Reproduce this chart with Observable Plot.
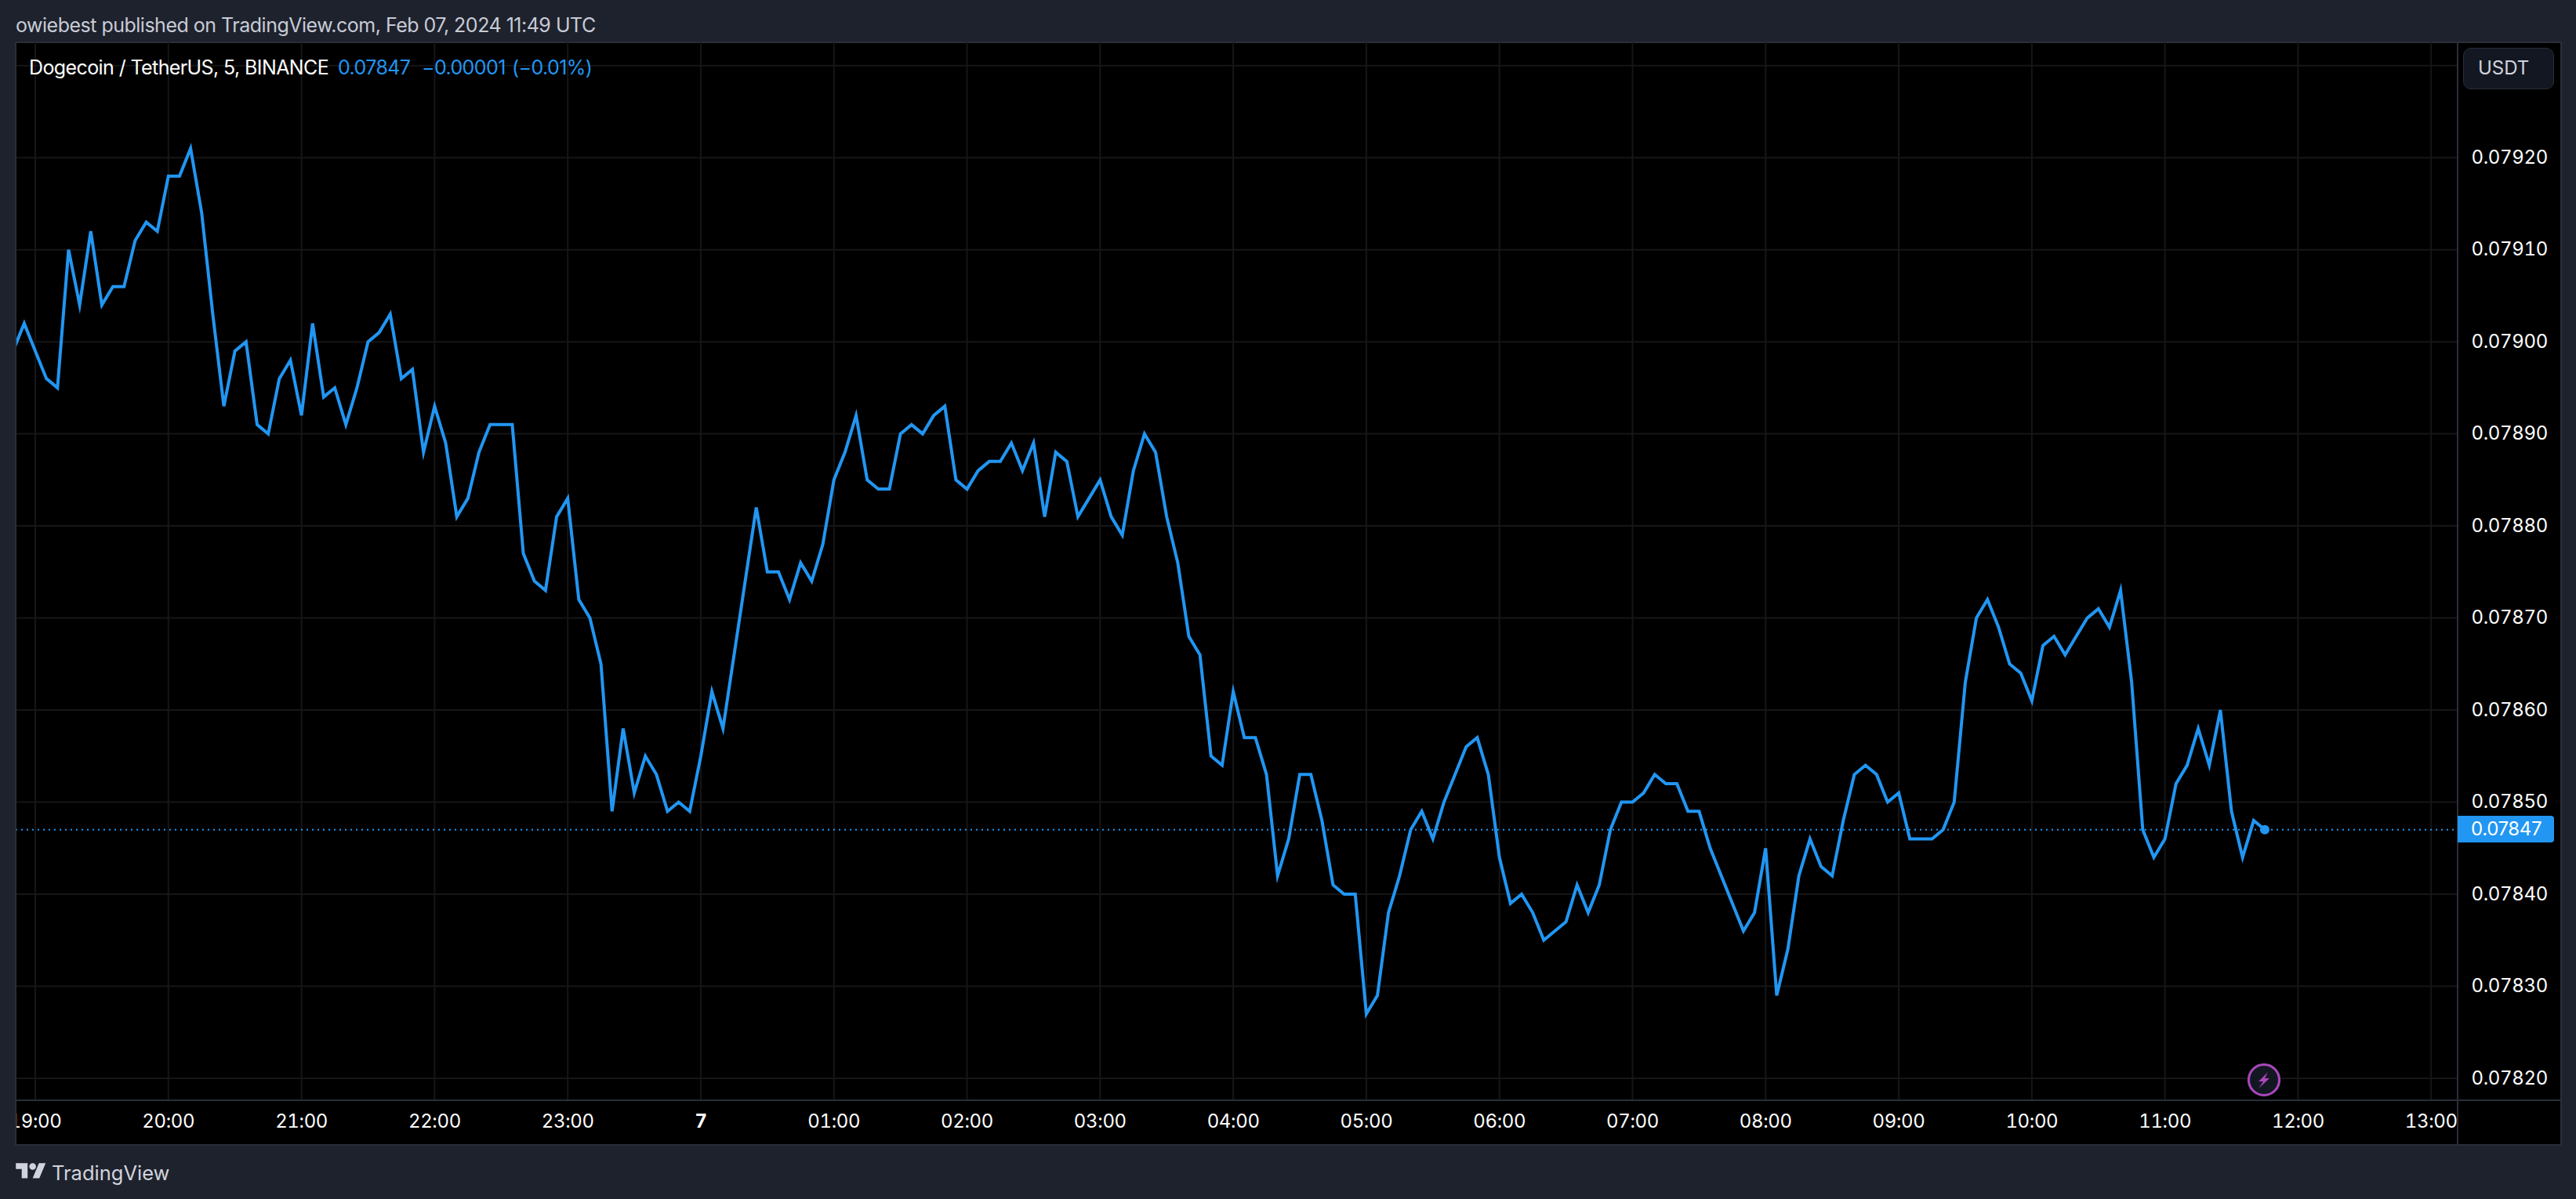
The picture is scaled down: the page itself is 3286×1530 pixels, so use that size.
<!DOCTYPE html>
<html>
<head>
<meta charset="utf-8">
<script src="https://cdn.jsdelivr.net/npm/d3@7"></script>
<script src="https://cdn.jsdelivr.net/npm/@observablehq/plot@0.6"></script>
<style>
  html,body{margin:0;padding:0;background:#1e222d;width:3286px;height:1530px;overflow:hidden;font-family:Inter,sans-serif;}
  .abs{position:absolute;white-space:pre;}
  #panel{left:19px;top:53px;width:3245px;height:1405px;background:#000;border:2px solid #2a2e39;}
  svg.chart{position:absolute;left:0;top:0;z-index:1;}
  svg.chart text{letter-spacing:-0.35px;}
  .over{z-index:2;}
</style>
</head>
<body>
<div id="panel" class="abs"></div>
<div id="root"></div>
<div class="abs over" style="left:0;top:54px;width:19px;height:1406px;background:#1e222d"></div>
<div class="abs over" style="left:19px;top:54px;width:2px;height:1406px;background:#2a2e39"></div>
<div class="abs over" style="left:20px;top:1403px;width:3246px;height:2px;background:#2a2e39"></div>
<div class="abs over" style="left:3134px;top:54px;width:2px;height:1406px;background:#2a2e39"></div>
<div class="abs over" style="left:20px;top:16px;font-size:25px;letter-spacing:-0.5px;line-height:32px;color:#c8cbd6">owiebest published on TradingView.com, Feb 07, 2024 11:49 UTC</div>
<div class="abs over" style="left:37px;top:70px;font-size:25px;letter-spacing:-0.6px;line-height:32px;color:#fff">Dogecoin / TetherUS, 5, BINANCE</div>
<div class="abs over" style="left:431px;top:70px;font-size:25px;letter-spacing:-0.6px;line-height:32px;color:#2196f3">0.07847</div>
<div class="abs over" style="left:538px;top:70px;font-size:25px;letter-spacing:-0.6px;line-height:32px;color:#2196f3">−0.00001</div>
<div class="abs over" style="left:653px;top:70px;font-size:25px;letter-spacing:-0.6px;line-height:32px;color:#2196f3">(−0.01%)</div>
<div class="abs over" style="left:3142px;top:61px;width:116px;height:53px;box-sizing:border-box;background:#131722;border:1.5px solid #2a2e39;border-radius:10px;color:#d1d4dc;font-size:24px;line-height:50px;padding-left:18px">USDT</div>
<div id="priceTag" class="abs over" style="left:3135px;width:106px;height:34px;padding-left:17px;background:#2196f3;border-radius:0 4px 4px 0;color:#fff;font-size:24px;letter-spacing:-0.35px;line-height:34px"></div>
<svg class="abs over" style="left:2866px;top:1356px" width="44" height="44" viewBox="0 0 44 44">
  <circle cx="22" cy="22" r="21.5" fill="#131722"/>
  <circle cx="22" cy="22" r="19.5" fill="#131722" stroke="#ab47bc" stroke-width="3"/>
  <path d="M27 12 L15 24 L21 24 L15.5 32.5 L29 20 L23 20 Z" fill="#ab47bc"/>
</svg>
<svg class="abs over" style="left:20px;top:1480px" width="39" height="30" viewBox="0 0 36 28">
  <path d="M14 22H7V11H0V4h14v18zM28 22h-8l7.5-18h8L28 22z" fill="#d1d4dc"/><circle cx="20" cy="8" r="4" fill="#d1d4dc"/>
</svg>
<div class="abs over" style="left:66px;top:1480px;font-size:25.5px;line-height:34px;color:#d1d4dc">TradingView</div>
<script>
const closesEvening = [
  0.07899,0.07902,
  0.07899,0.07896,0.07895,0.07910,0.07904,0.07912,0.07904,0.07906,0.07906,0.07911,0.07913,0.07912,
  0.07918,0.07918,0.07921,0.07914,0.07903,0.07893,0.07899,0.07900,0.07891,0.07890,0.07896,0.07898,
  0.07892,0.07902,0.07894,0.07895,0.07891,0.07895,0.07900,0.07901,0.07903,0.07896,0.07897,0.07888,
  0.07893,0.07889,0.07881,0.07883,0.07888,0.07891,0.07891,0.07891,0.07877,0.07874,0.07873,0.07881,
  0.07883,0.07872,0.07870,0.07865,0.07849,0.07858,0.07851,0.07855,0.07853,0.07849,0.07850,0.07849];
const closesNight = [
  0.07855,0.07862,0.07858,0.07866,0.07874,0.07882,0.07875,0.07875,0.07872,0.07876,0.07874,0.07878,
  0.07885,0.07888,0.07892,0.07885,0.07884,0.07884,0.07890,0.07891,0.07890,0.07892,0.07893,0.07885,
  0.07884,0.07886,0.07887,0.07887,0.07889,0.07886,0.07889,0.07881,0.07888,0.07887,0.07881,0.07883,
  0.07885,0.07881,0.07879,0.07886,0.07890,0.07888,0.07881,0.07876,0.07868,0.07866,0.07855,0.07854,
  0.07862,0.07857,0.07857,0.07853,0.07842,0.07846,0.07853,0.07853,0.07848,0.07841,0.07840,0.07840,
  0.07827,0.07829,0.07838,0.07842,0.07847,0.07849,0.07846,0.07850,0.07853,0.07856,0.07857,0.07853];
const closesDay = [
  0.07844,0.07839,0.07840,0.07838,0.07835,0.07836,0.07837,0.07841,0.07838,0.07841,0.07847,0.07850,
  0.07850,0.07851,0.07853,0.07852,0.07852,0.07849,0.07849,0.07845,0.07842,0.07839,0.07836,0.07838,
  0.07845,0.07829,0.07834,0.07842,0.07846,0.07843,0.07842,0.07848,0.07853,0.07854,0.07853,0.07850,
  0.07851,0.07846,0.07846,0.07846,0.07847,0.07850,0.07863,0.07870,0.07872,0.07869,0.07865,0.07864,
  0.07861,0.07867,0.07868,0.07866,0.07868,0.07870,0.07871,0.07869,0.07873,0.07863,0.07847,0.07844,
  0.07846,0.07852,0.07854,0.07858,0.07854,0.07860,0.07849,0.07844,0.07848,0.07847];
const firstBar = Date.UTC(2024, 1, 6, 18, 50);
const barMs = 5 * 60 * 1000;
const closes = [...closesEvening, ...closesNight, ...closesDay];
const series = closes.map((close, i) => ({time: new Date(firstBar + i * barMs), close}));
const last = series[series.length - 1];

const priceTicks = [0.0782,0.0783,0.0784,0.0785,0.0786,0.0787,0.0788,0.0789,0.0790,0.0791,0.0792];
const priceGrid = [...priceTicks, 0.0793];
const hourTicks = d3.range(0, 19).map(h => new Date(Date.UTC(2024, 1, 6, 19 + h)));
const midnight = new Date(Date.UTC(2024, 1, 7, 0));
const timeLabels = hourTicks.filter(d => +d !== +midnight);

const blue = "#2196f3", grid = "#161616";
const fmt = d3.utcFormat("%H:%M");
const chart = Plot.plot({
  width: 3286, height: 1530,
  marginLeft: 20, marginRight: 151, marginTop: 54, marginBottom: 126,
  style: {background: "transparent", fontFamily: "Inter, sans-serif"},
  className: "chart",
  x: {type: "utc", domain: [new Date(Date.UTC(2024,1,6,18,51,20)), new Date(Date.UTC(2024,1,7,13,12,7))]},
  y: {domain: [0.07817575, 0.07932484]},
  marks: [
    Plot.gridY(priceGrid, {stroke: grid, strokeOpacity: 1, strokeWidth: 2}),
    Plot.gridX(hourTicks, {stroke: grid, strokeOpacity: 1, strokeWidth: 2}),
    Plot.axisY(priceTicks, {anchor: "right", tickSize: 0, tickPadding: 17, tickFormat: d3.format(".5f"), fontSize: 24, fill: "#fff", label: null}),
    Plot.axisX(timeLabels, {anchor: "bottom", tickSize: 0, tickPadding: 17, tickFormat: fmt, fontSize: 24, fill: "#fff", label: null}),
    Plot.axisX([midnight], {anchor: "bottom", tickSize: 0, tickPadding: 17, tickFormat: () => "7", fontSize: 24, fontWeight: "bold", fill: "#fff", label: null}),
    Plot.ruleY([last.close], {stroke: blue, strokeWidth: 2, strokeDasharray: "2 5"}),
    Plot.line(series, {x: "time", y: "close", stroke: blue, strokeWidth: 4, strokeLinejoin: "miter", strokeMiterlimit: 6, clip: true}),
    Plot.dot([last], {x: "time", y: "close", r: 6, fill: blue})
  ]
});
document.getElementById("root").appendChild(chart);
const tag = document.getElementById("priceTag");
tag.textContent = d3.format(".5f")(last.close);
tag.style.top = (chart.scale("y").apply(last.close) - 17) + "px";
</script>
</body>
</html>
